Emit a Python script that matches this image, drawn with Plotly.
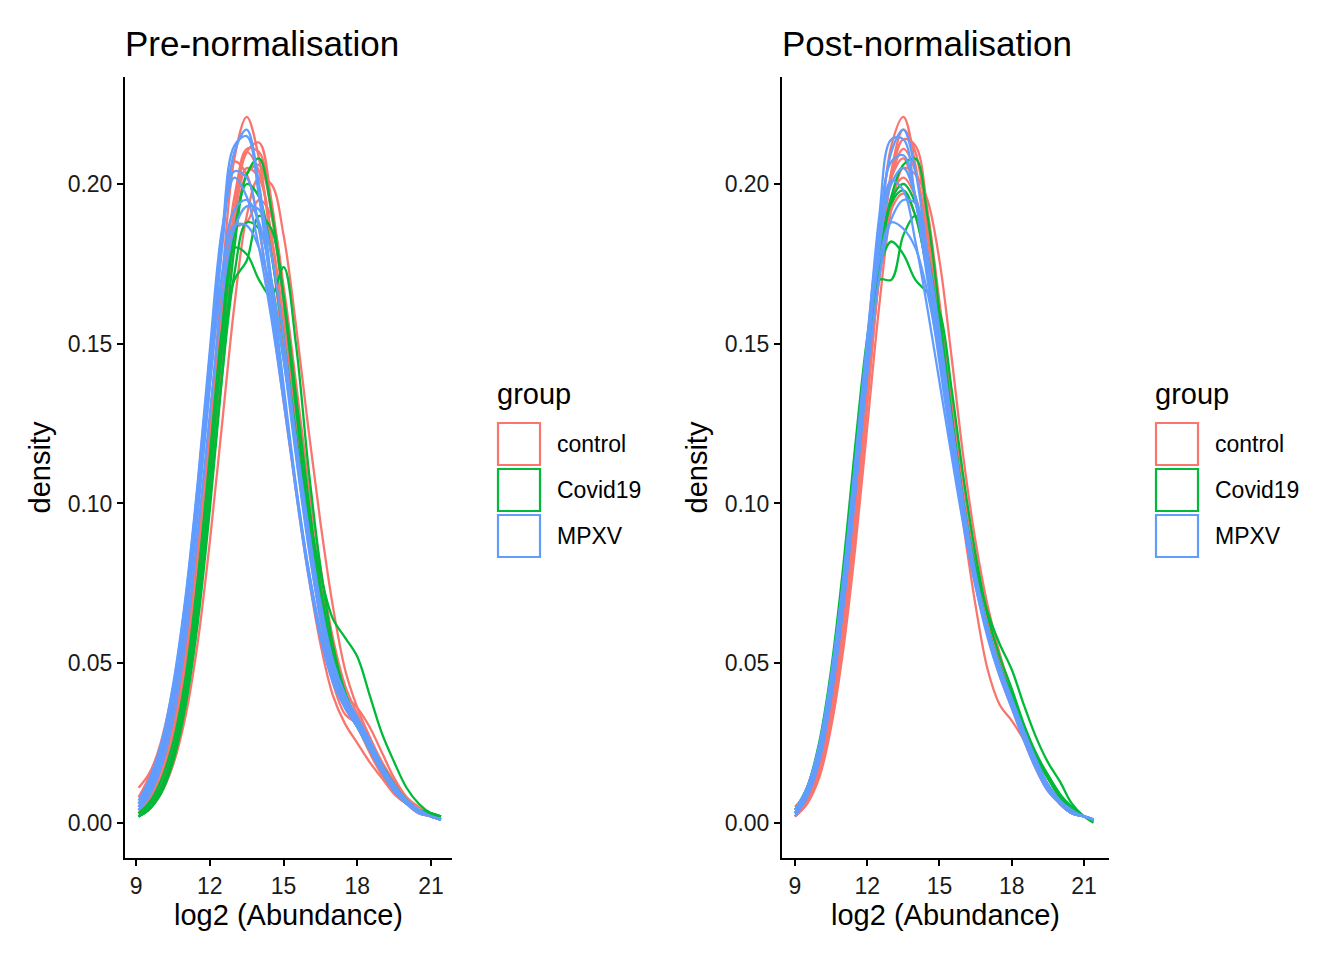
"""
Density of log2 abundance per sample, before and after normalisation
"""

import plotly.graph_objects as go

groups = ["control", "Covid19", "MPXV"]
group_colours = {"control": "#F8766D", "Covid19": "#00BA38", "MPXV": "#619CFF"}

# x grid of the density estimates
x_pre = [9.1, 9.5, 10.0, 10.5, 11.0, 11.5, 12.0, 12.5, 13.0, 13.5, 14.0, 14.5, 15.0,
         15.5, 16.0, 16.5, 17.0, 17.5, 18.0, 18.5, 19.0, 19.5, 20.0, 20.5, 21.0, 21.4]
x_post = [9.0, 9.5, 10.0, 10.5, 11.0, 11.5, 12.0, 12.5, 13.0, 13.5, 14.0, 14.5, 15.0,
          15.5, 16.0, 16.5, 17.0, 17.5, 18.0, 18.5, 19.0, 19.5, 20.0, 20.5, 21.0, 21.4]

# pre-normalisation densities, one list per sample
pre_control = [
    [0.004, 0.008, 0.016, 0.030, 0.052, 0.085, 0.125, 0.170, 0.208, 0.221, 0.208, 0.180, 0.148, 0.116, 0.088, 0.064, 0.046, 0.036, 0.030, 0.022, 0.015, 0.010, 0.006, 0.004, 0.002, 0.001],
    [0.003, 0.006, 0.013, 0.025, 0.045, 0.074, 0.110, 0.150, 0.188, 0.210, 0.213, 0.195, 0.165, 0.130, 0.098, 0.070, 0.050, 0.038, 0.031, 0.023, 0.016, 0.010, 0.006, 0.004, 0.002, 0.001],
    [0.002, 0.004, 0.009, 0.018, 0.033, 0.056, 0.088, 0.125, 0.162, 0.190, 0.202, 0.200, 0.184, 0.156, 0.124, 0.094, 0.068, 0.048, 0.036, 0.027, 0.019, 0.012, 0.007, 0.004, 0.002, 0.001],
    [0.008, 0.014, 0.025, 0.042, 0.066, 0.100, 0.142, 0.183, 0.207, 0.203, 0.186, 0.160, 0.132, 0.104, 0.078, 0.056, 0.040, 0.031, 0.025, 0.019, 0.014, 0.009, 0.006, 0.004, 0.002, 0.001],
    [0.005, 0.010, 0.019, 0.034, 0.057, 0.088, 0.124, 0.160, 0.186, 0.188, 0.195, 0.190, 0.168, 0.138, 0.107, 0.080, 0.058, 0.043, 0.034, 0.026, 0.019, 0.013, 0.008, 0.005, 0.003, 0.002],
    [0.004, 0.008, 0.016, 0.030, 0.052, 0.083, 0.122, 0.163, 0.196, 0.210, 0.204, 0.184, 0.156, 0.124, 0.092, 0.064, 0.044, 0.034, 0.031, 0.026, 0.018, 0.011, 0.006, 0.003, 0.002, 0.001],
    [0.011, 0.015, 0.024, 0.038, 0.058, 0.086, 0.120, 0.158, 0.189, 0.205, 0.202, 0.184, 0.157, 0.127, 0.098, 0.072, 0.052, 0.039, 0.031, 0.023, 0.016, 0.010, 0.006, 0.003, 0.002, 0.001],
    [0.003, 0.007, 0.014, 0.027, 0.048, 0.078, 0.115, 0.156, 0.192, 0.211, 0.210, 0.191, 0.162, 0.128, 0.095, 0.068, 0.050, 0.040, 0.036, 0.030, 0.022, 0.014, 0.008, 0.004, 0.002, 0.001],
    [0.003, 0.006, 0.012, 0.023, 0.042, 0.070, 0.106, 0.146, 0.182, 0.203, 0.206, 0.192, 0.166, 0.134, 0.102, 0.075, 0.054, 0.040, 0.032, 0.025, 0.018, 0.011, 0.007, 0.004, 0.002, 0.001],
]
pre_covid = [
    [0.002, 0.004, 0.009, 0.019, 0.036, 0.062, 0.098, 0.140, 0.180, 0.203, 0.208, 0.192, 0.164, 0.130, 0.097, 0.070, 0.050, 0.037, 0.030, 0.024, 0.018, 0.012, 0.007, 0.004, 0.003, 0.002],
    [0.003, 0.006, 0.013, 0.025, 0.045, 0.076, 0.115, 0.155, 0.180, 0.178, 0.170, 0.165, 0.174, 0.150, 0.112, 0.080, 0.056, 0.041, 0.032, 0.025, 0.018, 0.012, 0.007, 0.004, 0.003, 0.002],
    [0.002, 0.005, 0.011, 0.022, 0.041, 0.070, 0.108, 0.148, 0.170, 0.176, 0.190, 0.186, 0.165, 0.134, 0.102, 0.074, 0.053, 0.040, 0.032, 0.024, 0.017, 0.011, 0.007, 0.004, 0.003, 0.002],
    [0.002, 0.004, 0.010, 0.020, 0.038, 0.065, 0.101, 0.140, 0.172, 0.188, 0.186, 0.170, 0.145, 0.120, 0.098, 0.078, 0.064, 0.058, 0.052, 0.040, 0.028, 0.019, 0.011, 0.006, 0.003, 0.002],
    [0.002, 0.005, 0.011, 0.022, 0.041, 0.070, 0.108, 0.150, 0.185, 0.200, 0.196, 0.178, 0.152, 0.122, 0.093, 0.068, 0.049, 0.037, 0.030, 0.023, 0.016, 0.010, 0.006, 0.004, 0.002, 0.001],
]
pre_mpxv = [
    [0.004, 0.009, 0.019, 0.036, 0.062, 0.098, 0.140, 0.184, 0.212, 0.215, 0.196, 0.166, 0.134, 0.104, 0.078, 0.058, 0.044, 0.036, 0.030, 0.023, 0.016, 0.010, 0.006, 0.004, 0.002, 0.001],
    [0.005, 0.010, 0.020, 0.037, 0.062, 0.096, 0.137, 0.180, 0.210, 0.217, 0.200, 0.170, 0.137, 0.106, 0.080, 0.060, 0.046, 0.037, 0.030, 0.023, 0.016, 0.010, 0.006, 0.003, 0.002, 0.001],
    [0.006, 0.012, 0.024, 0.043, 0.070, 0.106, 0.148, 0.186, 0.202, 0.196, 0.180, 0.158, 0.132, 0.105, 0.080, 0.060, 0.046, 0.037, 0.031, 0.024, 0.017, 0.011, 0.007, 0.004, 0.002, 0.001],
    [0.005, 0.010, 0.021, 0.038, 0.064, 0.098, 0.137, 0.172, 0.192, 0.195, 0.188, 0.170, 0.145, 0.115, 0.087, 0.064, 0.048, 0.038, 0.031, 0.024, 0.017, 0.011, 0.007, 0.004, 0.002, 0.001],
    [0.006, 0.011, 0.022, 0.040, 0.066, 0.100, 0.138, 0.170, 0.187, 0.187, 0.180, 0.166, 0.146, 0.120, 0.093, 0.069, 0.051, 0.040, 0.032, 0.025, 0.018, 0.011, 0.007, 0.004, 0.002, 0.001],
    [0.004, 0.008, 0.017, 0.032, 0.056, 0.090, 0.128, 0.164, 0.186, 0.193, 0.192, 0.178, 0.152, 0.120, 0.090, 0.066, 0.050, 0.040, 0.033, 0.026, 0.018, 0.012, 0.007, 0.004, 0.002, 0.001],
    [0.007, 0.013, 0.024, 0.042, 0.069, 0.105, 0.146, 0.184, 0.204, 0.202, 0.186, 0.162, 0.134, 0.105, 0.079, 0.059, 0.045, 0.037, 0.031, 0.024, 0.017, 0.011, 0.007, 0.004, 0.002, 0.001],
]

# post-normalisation densities
post_control = [
    [0.002, 0.007, 0.017, 0.036, 0.064, 0.100, 0.142, 0.182, 0.212, 0.221, 0.206, 0.180, 0.152, 0.124, 0.099, 0.078, 0.061, 0.049, 0.039, 0.028, 0.018, 0.011, 0.006, 0.003, 0.002, 0.001],
    [0.002, 0.006, 0.015, 0.032, 0.058, 0.092, 0.132, 0.172, 0.202, 0.214, 0.212, 0.192, 0.163, 0.133, 0.106, 0.083, 0.065, 0.051, 0.040, 0.029, 0.019, 0.012, 0.007, 0.004, 0.002, 0.001],
    [0.002, 0.006, 0.014, 0.030, 0.054, 0.086, 0.124, 0.162, 0.192, 0.205, 0.203, 0.195, 0.176, 0.146, 0.114, 0.088, 0.068, 0.053, 0.041, 0.030, 0.020, 0.012, 0.007, 0.004, 0.002, 0.001],
    [0.003, 0.008, 0.018, 0.036, 0.063, 0.098, 0.138, 0.176, 0.202, 0.208, 0.196, 0.174, 0.148, 0.120, 0.093, 0.068, 0.048, 0.037, 0.032, 0.026, 0.018, 0.011, 0.006, 0.003, 0.002, 0.001],
    [0.003, 0.008, 0.018, 0.035, 0.061, 0.095, 0.135, 0.174, 0.202, 0.211, 0.204, 0.184, 0.157, 0.128, 0.101, 0.078, 0.060, 0.047, 0.037, 0.027, 0.018, 0.011, 0.006, 0.003, 0.002, 0.001],
    [0.005, 0.010, 0.021, 0.040, 0.067, 0.101, 0.139, 0.174, 0.196, 0.202, 0.196, 0.179, 0.155, 0.128, 0.102, 0.080, 0.062, 0.049, 0.038, 0.028, 0.018, 0.011, 0.006, 0.003, 0.002, 0.001],
    [0.002, 0.006, 0.015, 0.031, 0.056, 0.090, 0.131, 0.172, 0.204, 0.217, 0.210, 0.187, 0.158, 0.128, 0.100, 0.077, 0.059, 0.046, 0.036, 0.026, 0.017, 0.010, 0.006, 0.003, 0.002, 0.001],
    [0.004, 0.009, 0.020, 0.038, 0.064, 0.098, 0.136, 0.170, 0.192, 0.197, 0.190, 0.172, 0.149, 0.124, 0.100, 0.080, 0.064, 0.052, 0.041, 0.030, 0.020, 0.012, 0.007, 0.004, 0.002, 0.001],
]
post_covid = [
    [0.003, 0.009, 0.021, 0.042, 0.070, 0.105, 0.142, 0.174, 0.196, 0.206, 0.208, 0.190, 0.160, 0.128, 0.100, 0.078, 0.061, 0.049, 0.040, 0.030, 0.021, 0.014, 0.008, 0.004, 0.002, 0.001],
    [0.004, 0.011, 0.025, 0.048, 0.080, 0.118, 0.152, 0.174, 0.182, 0.178, 0.170, 0.166, 0.160, 0.136, 0.108, 0.084, 0.065, 0.052, 0.042, 0.031, 0.022, 0.015, 0.009, 0.004, 0.002, 0.001],
    [0.004, 0.011, 0.024, 0.046, 0.076, 0.112, 0.146, 0.170, 0.170, 0.184, 0.190, 0.178, 0.155, 0.127, 0.100, 0.078, 0.061, 0.049, 0.040, 0.030, 0.021, 0.015, 0.009, 0.005, 0.002, 0.001],
    [0.003, 0.009, 0.021, 0.042, 0.071, 0.107, 0.144, 0.175, 0.194, 0.198, 0.190, 0.172, 0.148, 0.122, 0.099, 0.080, 0.066, 0.056, 0.048, 0.037, 0.027, 0.019, 0.013, 0.006, 0.002, 0.000],
    [0.003, 0.010, 0.023, 0.045, 0.074, 0.110, 0.146, 0.176, 0.195, 0.200, 0.194, 0.176, 0.151, 0.124, 0.099, 0.078, 0.061, 0.049, 0.040, 0.030, 0.021, 0.014, 0.008, 0.004, 0.002, 0.001],
]
post_mpxv = [
    [0.003, 0.009, 0.021, 0.042, 0.071, 0.108, 0.150, 0.190, 0.214, 0.214, 0.195, 0.170, 0.144, 0.118, 0.094, 0.074, 0.058, 0.046, 0.036, 0.026, 0.017, 0.010, 0.006, 0.003, 0.002, 0.001],
    [0.002, 0.008, 0.019, 0.039, 0.067, 0.103, 0.144, 0.184, 0.210, 0.217, 0.204, 0.178, 0.150, 0.122, 0.097, 0.076, 0.060, 0.047, 0.037, 0.027, 0.018, 0.011, 0.006, 0.003, 0.002, 0.001],
    [0.004, 0.011, 0.024, 0.046, 0.076, 0.113, 0.152, 0.185, 0.201, 0.198, 0.182, 0.161, 0.138, 0.115, 0.093, 0.074, 0.059, 0.047, 0.037, 0.027, 0.018, 0.011, 0.006, 0.003, 0.002, 0.001],
    [0.003, 0.009, 0.020, 0.040, 0.068, 0.103, 0.140, 0.171, 0.189, 0.195, 0.194, 0.178, 0.154, 0.126, 0.100, 0.078, 0.061, 0.048, 0.038, 0.028, 0.019, 0.012, 0.007, 0.003, 0.002, 0.001],
    [0.004, 0.011, 0.024, 0.046, 0.076, 0.112, 0.148, 0.176, 0.188, 0.186, 0.180, 0.166, 0.146, 0.122, 0.098, 0.077, 0.061, 0.049, 0.039, 0.029, 0.020, 0.012, 0.007, 0.004, 0.002, 0.001],
    [0.003, 0.009, 0.021, 0.042, 0.071, 0.107, 0.146, 0.180, 0.200, 0.205, 0.196, 0.176, 0.150, 0.123, 0.098, 0.077, 0.060, 0.048, 0.038, 0.028, 0.019, 0.012, 0.006, 0.003, 0.002, 0.001],
    [0.003, 0.009, 0.020, 0.041, 0.070, 0.106, 0.147, 0.185, 0.207, 0.209, 0.196, 0.174, 0.148, 0.121, 0.096, 0.075, 0.059, 0.047, 0.037, 0.027, 0.018, 0.011, 0.006, 0.003, 0.002, 0.001],
]

x_ticks = [9, 12, 15, 18, 21]
y_ticks = [0.00, 0.05, 0.10, 0.15, 0.20]

panels = [
    ("Pre-normalisation", x_pre, {"control": pre_control, "Covid19": pre_covid, "MPXV": pre_mpxv}),
    ("Post-normalisation", x_post, {"control": post_control, "Covid19": post_covid, "MPXV": post_mpxv}),
]

W, H = 1344, 960
font = "Liberation Sans, Arial, Helvetica, sans-serif"

# panel boxes in pixels: (left, right), top, bottom
x_px = [(125, 452), (782, 1109)]
y_top, y_bot = 77, 858
x_ranges = [[8.55, 21.85], [8.46, 22.04]]
y_range = [-0.011, 0.2335]
legend_left = [497, 1155]

fig = go.Figure()
for p, (title, xs, curves) in enumerate(panels):
    xa = "x" if p == 0 else "x2"
    ya = "y" if p == 0 else "y2"
    for g in groups:
        for dens in curves[g]:
            fig.add_trace(go.Scatter(
                x=xs, y=dens, mode="lines", xaxis=xa, yaxis=ya,
                line=dict(color=group_colours[g], width=2.3, shape="spline", smoothing=1.0),
                showlegend=False, hoverinfo="skip",
            ))

axis_common = dict(
    showgrid=False, zeroline=False, showline=True, linecolor="black", linewidth=2,
    ticks="outside", ticklen=6, tickwidth=1.6, tickcolor="black",
    tickfont=dict(family=font, size=23, color="#1a1a1a"),
)

layout = dict(
    width=W, height=H, margin=dict(l=0, r=0, t=0, b=0),
    paper_bgcolor="white", plot_bgcolor="white",
    font=dict(family=font, color="black"),
)
for p in range(2):
    sfx = "" if p == 0 else "2"
    layout["xaxis" + sfx] = dict(
        axis_common, domain=[x_px[p][0] / W, x_px[p][1] / W], range=x_ranges[p],
        tickvals=x_ticks, ticktext=[str(t) for t in x_ticks],
        anchor="y" + sfx, ticklabelstandoff=0,
        title=dict(text="log2 (Abundance)", font=dict(family=font, size=29), standoff=4),
    )
    layout["yaxis" + sfx] = dict(
        axis_common, domain=[1 - y_bot / H, 1 - y_top / H], range=y_range,
        tickvals=y_ticks, ticktext=["%.2f" % t for t in y_ticks],
        anchor="x" + sfx,
        title=dict(text="density", font=dict(family=font, size=29), standoff=8),
    )
fig.update_layout(**layout)

# panel titles
for p, (title, _, _) in enumerate(panels):
    fig.add_annotation(
        x=(x_px[p][0] - 2) / W, y=1 - 43 / H, xref="paper", yref="paper",
        text=title, showarrow=False, xanchor="left", yanchor="middle",
        font=dict(family=font, size=35, color="black"),
    )

# legends drawn as ggplot-style outlined keys
for p in range(2):
    lx = legend_left[p]
    fig.add_annotation(
        x=(lx - 2) / W, y=1 - 394 / H, xref="paper", yref="paper",
        text="group", showarrow=False, xanchor="left", yanchor="middle",
        font=dict(family=font, size=29, color="black"),
    )
    for i, g in enumerate(groups):
        top = 423 + 46 * i
        fig.add_shape(
            type="rect", xref="paper", yref="paper",
            x0=(lx + 1) / W, x1=(lx + 43) / W, y0=1 - (top + 42) / H, y1=1 - top / H,
            line=dict(color=group_colours[g], width=2.2), fillcolor="white",
        )
        fig.add_annotation(
            x=(lx + 58) / W, y=1 - (top + 21) / H, xref="paper", yref="paper",
            text=g, showarrow=False, xanchor="left", yanchor="middle",
            font=dict(family=font, size=23, color="black"),
        )

# the page's default 8px body margin would push the fixed-size figure off its spot
fig.write_html(
    "out.html",
    config={"displayModeBar": False},
    post_script="document.body.style.margin = '0';",
)
